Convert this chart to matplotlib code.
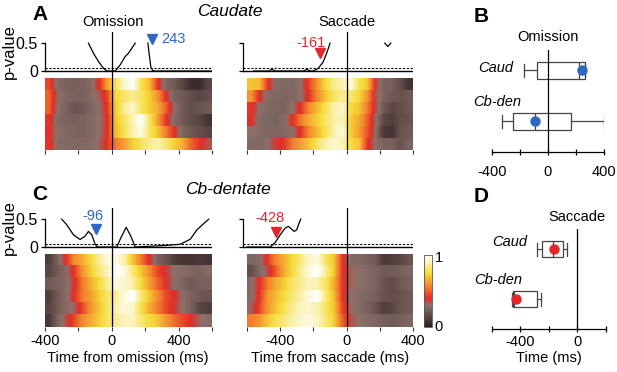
import numpy as np
import matplotlib
matplotlib.use("Agg")
import matplotlib.pyplot as plt
from matplotlib.colors import LinearSegmentedColormap

plt.rcParams['font.family'] = ['Liberation Sans', 'DejaVu Sans']
plt.rcParams['axes.unicode_minus'] = False

# ---- data ----
# normalized activity, 6 neurons x 20 bins (50 ms)
caud_omit = [
    [0.45, 0.28, 0.25, 0.24, 0.25, 0.27, 0.40, 0.62, 0.80, 0.92, 1.00, 0.78, 0.68, 0.42, 0.26, 0.22, 0.15, 0.06, 0.05, 0.15],
    [0.50, 0.32, 0.26, 0.25, 0.24, 0.28, 0.33, 0.45, 0.75, 0.80, 0.85, 0.80, 0.72, 0.60, 0.40, 0.25, 0.22, 0.18, 0.15, 0.18],
    [0.50, 0.30, 0.25, 0.20, 0.22, 0.26, 0.30, 0.42, 0.72, 0.85, 0.92, 0.80, 0.72, 0.65, 0.50, 0.30, 0.22, 0.18, 0.20, 0.22],
    [0.42, 0.28, 0.25, 0.24, 0.25, 0.27, 0.30, 0.40, 0.70, 0.80, 0.88, 1.00, 0.80, 0.62, 0.42, 0.28, 0.22, 0.18, 0.15, 0.08],
    [0.40, 0.30, 0.27, 0.26, 0.25, 0.27, 0.30, 0.40, 0.68, 0.78, 0.88, 0.95, 0.80, 0.70, 0.55, 0.40, 0.26, 0.22, 0.18, 0.15],
    [0.42, 0.28, 0.28, 0.27, 0.27, 0.28, 0.32, 0.42, 0.55, 0.62, 0.72, 0.78, 0.85, 0.88, 0.82, 0.72, 0.65, 0.50, 0.42, 0.35],
]
caud_sacc = [
    [0.70, 0.68, 0.42, 0.28, 0.27, 0.27, 0.30, 0.45, 0.60, 0.75, 0.85, 0.88, 0.95, 0.78, 0.70, 0.38, 0.25, 0.24, 0.18, 0.08],
    [0.60, 0.40, 0.28, 0.27, 0.26, 0.27, 0.30, 0.42, 0.58, 0.70, 0.80, 0.85, 0.82, 0.75, 0.60, 0.35, 0.25, 0.22, 0.20, 0.22],
    [0.42, 0.30, 0.27, 0.26, 0.25, 0.30, 0.42, 0.58, 0.68, 0.78, 0.88, 0.92, 0.75, 0.70, 0.55, 0.35, 0.22, 0.15, 0.18, 0.22],
    [0.40, 0.28, 0.26, 0.25, 0.28, 0.40, 0.55, 0.65, 0.72, 0.80, 0.88, 0.90, 0.72, 0.65, 0.50, 0.32, 0.15, 0.12, 0.18, 0.20],
    [0.30, 0.28, 0.26, 0.26, 0.27, 0.30, 0.42, 0.58, 0.68, 0.78, 0.88, 0.95, 0.72, 0.62, 0.48, 0.30, 0.10, 0.08, 0.20, 0.22],
    [0.28, 0.27, 0.30, 0.38, 0.42, 0.55, 0.62, 0.70, 0.80, 0.88, 0.92, 0.90, 0.75, 0.70, 0.42, 0.30, 0.25, 0.24, 0.20, 0.25],
]
cbden_omit = [
    [0.12, 0.25, 0.40, 0.58, 0.65, 0.75, 0.85, 0.95, 0.95, 0.88, 0.70, 0.55, 0.40, 0.25, 0.20, 0.12, 0.08, 0.08, 0.10, 0.08],
    [0.15, 0.22, 0.28, 0.42, 0.60, 0.72, 0.82, 0.90, 1.00, 0.95, 0.82, 0.70, 0.58, 0.45, 0.38, 0.30, 0.28, 0.26, 0.25, 0.28],
    [0.22, 0.25, 0.28, 0.38, 0.55, 0.65, 0.75, 0.85, 0.95, 0.92, 0.88, 0.75, 0.62, 0.50, 0.40, 0.30, 0.26, 0.22, 0.24, 0.25],
    [0.12, 0.22, 0.28, 0.40, 0.55, 0.62, 0.72, 0.80, 0.85, 0.95, 1.00, 0.82, 0.70, 0.58, 0.45, 0.40, 0.30, 0.25, 0.22, 0.20],
    [0.15, 0.22, 0.28, 0.32, 0.45, 0.60, 0.70, 0.80, 0.88, 0.95, 0.92, 0.78, 0.65, 0.55, 0.45, 0.38, 0.30, 0.25, 0.15, 0.12],
    [0.10, 0.25, 0.35, 0.45, 0.58, 0.65, 0.72, 0.80, 0.85, 0.90, 0.90, 0.82, 0.75, 0.70, 0.60, 0.52, 0.45, 0.40, 0.32, 0.28],
]
cbden_sacc = [
    [0.26, 0.28, 0.42, 0.58, 0.65, 0.75, 0.82, 0.92, 0.95, 0.80, 0.70, 0.42, 0.28, 0.27, 0.25, 0.22, 0.10, 0.12, 0.15, 0.20],
    [0.18, 0.27, 0.35, 0.50, 0.65, 0.75, 0.85, 0.95, 1.00, 0.85, 0.70, 0.42, 0.32, 0.30, 0.28, 0.25, 0.22, 0.22, 0.24, 0.26],
    [0.28, 0.40, 0.55, 0.65, 0.72, 0.80, 0.85, 0.90, 0.88, 0.80, 0.65, 0.42, 0.32, 0.30, 0.28, 0.25, 0.20, 0.18, 0.22, 0.24],
    [0.28, 0.42, 0.60, 0.68, 0.75, 0.82, 0.88, 0.95, 1.00, 0.82, 0.68, 0.42, 0.30, 0.28, 0.26, 0.24, 0.20, 0.18, 0.20, 0.22],
    [0.32, 0.45, 0.60, 0.70, 0.78, 0.85, 0.90, 0.92, 0.88, 0.80, 0.70, 0.45, 0.32, 0.28, 0.25, 0.20, 0.12, 0.15, 0.20, 0.22],
    [0.55, 0.60, 0.70, 0.78, 0.82, 0.88, 0.92, 0.95, 0.90, 0.82, 0.72, 0.50, 0.35, 0.30, 0.28, 0.26, 0.24, 0.22, 0.24, 0.26],
]

# p-value curves (time ms, p) - each list holds separate segments
caud_omit_curves = [
    ([-140, -110, -80, -50, -30, 0, 20, 50, 80, 100, 120, 140],
     [0.5, 0.32, 0.17, 0.05, 0.0, 0.0, 0.0, 0.11, 0.26, 0.32, 0.41, 0.5]),
    ([216, 226, 234, 246, 600], [0.5, 0.25, 0.07, 0.0, 0.0]),
]
caud_sacc_curves = [
    ([-560, -470, -450, -430, -300, -260, -240, -220, -200, -170, -140, -120, -104, -100],
     [0.0, 0.0, 0.03, 0.0, 0.0, 0.0, 0.03, 0.0, 0.0, 0.05, 0.17, 0.32, 0.46, 0.5]),
    ([230, 248, 266], [0.5, 0.44, 0.5]),
]
cbden_omit_curves = [
    ([-300, -270, -230, -190, -160, -140, -120, -100, -86, 30, 54, 86, 114, 140, 330, 410, 470, 510, 580],
     [0.5, 0.40, 0.22, 0.135, 0.195, 0.28, 0.22, 0.05, 0.0, 0.0, 0.165, 0.354, 0.195, 0.0, 0.03, 0.05, 0.14, 0.31, 0.5]),
]
cbden_sacc_curves = [
    ([-600, -460, -430, -400, -370, -350, -330, -316, -300, -290, -276],
     [0.0, 0.0, 0.083, 0.22, 0.34, 0.37, 0.32, 0.28, 0.31, 0.40, 0.5]),
]

# onset times (ms)
caud_omit_onset = 243
caud_sacc_onset = -161
cbden_omit_onset = -96
cbden_sacc_onset = -428

# box plot summaries: whislo, q1, med, q3, whishi, onset
omit_stats = {
    'Caud': (-171, -79, 221, 264, 264, 243),
    'Cb-den': (-329, -250, -96, 164, 400, -96),
}
sacc_stats = {
    'Caud': (-281, -246, -168, -98, -70, -161),
    'Cb-den': (-456, -449, -440, -281, -253, -428),
}

BLUE = '#2f68c0'
RED = '#e5262b'
W, H = 617, 372
FS = 10.5

cmap = LinearSegmentedColormap.from_list('fire', [
    (0.0, '#2a2020'), (0.15, '#5a4644'), (0.3, '#8c716a'), (0.4, '#e22c27'),
    (0.55, '#f27d2c'), (0.75, '#f6dc3a'), (0.9, '#fbf4bd'), (1.0, '#ffffff')])


def rect(x0, y0, x1, y1):
    return [x0 / W, 1 - y1 / H, (x1 - x0) / W, (y1 - y0) / H]


def ftext(x, y, s, **kw):
    fig.text(x / W, 1 - y / H, s, ha=kw.pop('ha', 'center'), va=kw.pop('va', 'center'), **kw)


fig = plt.figure(figsize=(W / 100, H / 100), dpi=100)


def pvalue_axes(r, xlim, curves, onset, onset_p, txt_x, txt_p, color, label_left, txt_ha='center'):
    ax = fig.add_axes(r)
    ax.set_xlim(xlim)
    ax.set_ylim(-0.125, 0.7)
    for s in ['top', 'right', 'bottom']:
        ax.spines[s].set_visible(False)
    ax.spines['left'].set_bounds(0, 0.5)
    ax.spines['left'].set_linewidth(0.9)
    ax.set_xticks([])
    ax.set_yticks([0, 0.5])
    ax.set_yticklabels(['0', '0.5'] if label_left else [])
    ax.tick_params(axis='y', length=3, width=0.9, labelsize=11.5, pad=2)
    ax.axhline(0, color='k', lw=1)
    ax.axhline(0.05, color='k', lw=0.8, ls=(0, (2, 1.5)))
    ax.axvline(0, color='k', lw=0.9)
    for t, p in curves:
        ax.plot(t, p, color='k', lw=0.9)
    ax.plot([onset], [onset_p], marker='v', ms=7, color=color, ls='none')
    ax.text(txt_x, txt_p, str(onset), color=color, fontsize=FS, ha=txt_ha, va='center')
    return ax


def heat_axes(r, data, xlim, bottom_labels):
    ax = fig.add_axes(r)
    # one image per neuron row, smoothed along time only
    for i, row in enumerate(data):
        im = ax.imshow(np.array([row]), cmap=cmap, vmin=0, vmax=1, aspect='auto',
                       extent=[xlim[0], xlim[1], i + 1, i], interpolation='bilinear')
    ax.set_xlim(xlim)
    ax.set_ylim(len(data), 0)
    for s in ax.spines.values():
        s.set_visible(False)
    ticks = np.arange(xlim[0], xlim[1] + 1, 200)
    ax.set_xticks(ticks)
    if bottom_labels:
        ax.set_xticklabels([str(t) if t in (-400, 0, 400) else '' for t in ticks])
    else:
        ax.set_xticklabels([])
    ax.tick_params(axis='x', length=3, width=0.8, labelsize=FS, pad=2, color='#333')
    ax.set_yticks([])
    ax.axvline(0, color='k', lw=0.9)
    return im


# ---- A: caudate ----
pvalue_axes(rect(45, 32, 212, 78), (-400, 600), caud_omit_curves, caud_omit_onset, 0.57,
            296, 0.57, BLUE, True, txt_ha='left')
heat_axes(rect(45, 78, 212, 150), caud_omit, (-400, 600), False)
pvalue_axes(rect(243, 32, 413, 78), (-624, 400), caud_sacc_curves, caud_sacc_onset, 0.32,
            -214, 0.5, RED, False)
heat_axes(rect(247, 78, 413, 150), caud_sacc, (-600, 400), False)

# ---- C: cerebellar dentate ----
pvalue_axes(rect(45, 208, 212, 254), (-400, 600), cbden_omit_curves, cbden_omit_onset, 0.32,
            -112, 0.55, BLUE, True)
heat_axes(rect(45, 254, 212, 327), cbden_omit, (-400, 600), True)
pvalue_axes(rect(243, 208, 413, 254), (-624, 400), cbden_sacc_curves, cbden_sacc_onset, 0.27,
            -460, 0.52, RED, False)
im = heat_axes(rect(247, 254, 413, 327), cbden_sacc, (-600, 400), True)

cax = fig.add_axes(rect(424, 255, 432, 327))
cb = fig.colorbar(im, cax=cax, ticks=[])
cb.outline.set_linewidth(0.6)
cb.outline.set_edgecolor('#555')
ftext(439, 258, '1', fontsize=FS)
ftext(439, 327, '0', fontsize=FS)


# ---- B / D: onset box plots ----
def onset_box(r, stats, xlim, ticks, color, pad):
    ax = fig.add_axes(r)
    names = list(stats.keys())
    pos = [1.6, 0.6]
    bx = []
    for n in names:
        lo, q1, med, q3, hi, _ = stats[n]
        bx.append(dict(whislo=lo, q1=q1, med=med, q3=q3, whishi=hi, fliers=[]))
    ec = '#444444'
    ax.bxp(bx, positions=pos, widths=0.32, orientation='horizontal', showfliers=False,
           patch_artist=True, manage_ticks=False, capwidths=0.26,
           boxprops=dict(facecolor='white', edgecolor=ec, lw=0.9),
           whiskerprops=dict(color=ec, lw=0.9), capprops=dict(color=ec, lw=0.9),
           medianprops=dict(color=ec, lw=0.9))
    ax.plot([stats[n][5] for n in names], pos, 'o', color=color, ms=6.5, zorder=5, clip_on=False)
    ax.set_xlim(xlim)
    ax.set_ylim(0, 2)
    for s in ['top', 'right', 'left']:
        ax.spines[s].set_visible(False)
    ax.spines['bottom'].set_linewidth(0.9)
    ax.set_yticks([])
    ax.set_xticks(ticks)
    ax.set_xticklabels([str(t) if t in (-400, 0, 400) else '' for t in ticks])
    ax.tick_params(axis='x', direction='inout', length=4, width=0.9, labelsize=FS, pad=pad)
    ax.axvline(0, color='k', lw=0.9)
    return ax


onset_box(rect(492, 50, 604, 152), omit_stats, (-400, 400), [-400, -200, 0, 200, 400], BLUE, 7.5)
onset_box(rect(491.5, 229, 605.5, 329), sacc_stats, (-600, 200), [-600, -400, -200, 0, 200], RED, 2.5)

# ---- labels ----
ftext(40, 15, 'A', fontsize=15, fontweight='bold')
ftext(40, 194, 'C', fontsize=15, fontweight='bold')
ftext(481, 17, 'B', fontsize=15, fontweight='bold')
ftext(481, 196, 'D', fontsize=15, fontweight='bold')
ftext(230, 12, 'Caudate', fontsize=12.5, style='italic')
ftext(228, 190, 'Cb-dentate', fontsize=12.5, style='italic')
ftext(113, 22, 'Omission', fontsize=FS)
ftext(347, 22, 'Saccade', fontsize=FS)
ftext(548, 37, 'Omission', fontsize=FS)
ftext(577, 217, 'Saccade', fontsize=FS)
ftext(9, 52, 'p-value', fontsize=12, rotation=90)
ftext(9, 228, 'p-value', fontsize=12, rotation=90)
ftext(128, 358, 'Time from omission (ms)', fontsize=FS)
ftext(330, 358, 'Time from saccade (ms)', fontsize=FS)
ftext(549, 358, 'Time (ms)', fontsize=FS)
ftext(513, 68, 'Caud', fontsize=FS, style='italic', ha='right')
ftext(521, 102, 'Cb-den', fontsize=FS, style='italic', ha='right')
ftext(527, 242, 'Caud', fontsize=FS, style='italic', ha='right')
ftext(522, 280, 'Cb-den', fontsize=FS, style='italic', ha='right')

fig.savefig('out.png', dpi=100)
